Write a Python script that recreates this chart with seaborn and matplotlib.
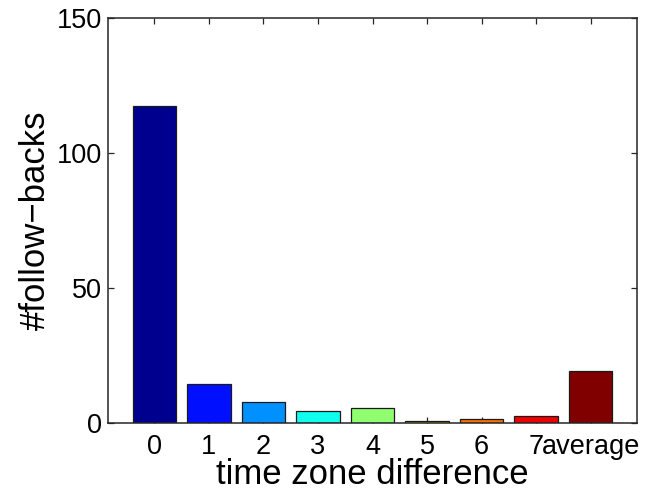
import matplotlib
matplotlib.use("Agg")
import matplotlib.pyplot as plt
import seaborn as sns
import pandas as pd

# Follow-backs per time zone difference
categories = ["0", "1", "2", "3", "4", "5", "6", "7", "average"]
follow_backs = [117.5, 14.6, 7.7, 4.6, 5.4, 0.6, 1.6, 2.6, 19.3]
bar_colors = ["#00008F", "#0010FF", "#0090FF", "#10FFEF", "#90FF70",
              "#FFEF00", "#FF7000", "#EF0000", "#800000"]
y_ticks = [0, 50, 100, 150]

df = pd.DataFrame({"tz": categories, "n": follow_backs})

sns.set_theme(style="ticks")
plt.rcParams["font.family"] = ["Liberation Sans", "DejaVu Sans"]
plt.rcParams["text.color"] = "black"
plt.rcParams["axes.labelcolor"] = "black"

fig = plt.figure(figsize=(6.48, 4.92), dpi=100)
ax = fig.add_axes([108 / 648, 1 - 423 / 492, (637 - 108) / 648, (423 - 18) / 492])

sns.barplot(data=df, x="tz", y="n", hue="tz", palette=bar_colors,
            legend=False, width=0.8, edgecolor="#1a1a1a", linewidth=0.9,
            saturation=1, ax=ax)

ax.set_axisbelow(True)
ax.set_xlim(-0.85, 8.85)
ax.set_ylim(0, 150)
ax.set_yticks(y_ticks)
ax.set_xticks(range(len(categories)))
ax.set_xticklabels(categories)

for side in ["top", "right", "left", "bottom"]:
    ax.spines[side].set_visible(True)
    ax.spines[side].set_color("#262626")
    ax.spines[side].set_linewidth(1.1)

ax.tick_params(axis="both", direction="in", length=4.5, width=0.9,
               colors="#262626", labelcolor="black", labelsize=19.5,
               top=True, right=True)
ax.tick_params(axis="x", pad=8)
ax.tick_params(axis="y", pad=4)

ax.set_xlabel("time zone difference", fontsize=25, labelpad=-1.5, color="black")
ax.set_ylabel("#follow\u2212backs", fontsize=25, labelpad=4, color="black")

fig.savefig("out.png", dpi=100)
